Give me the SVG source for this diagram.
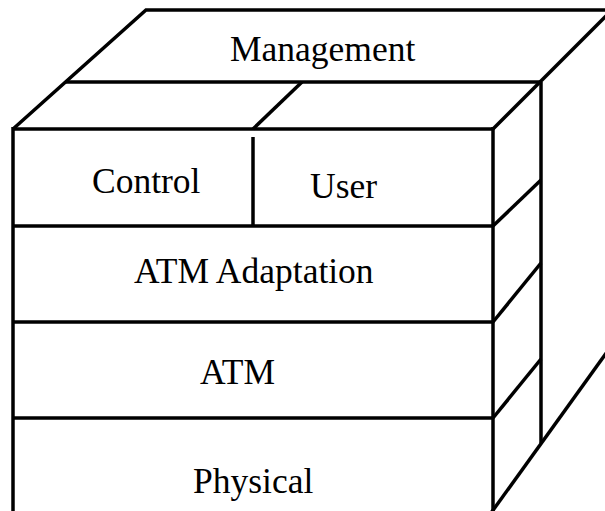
<svg xmlns="http://www.w3.org/2000/svg" width="605" height="511" viewBox="0 0 605 511">
  <style>
    .edge { fill: none; stroke: #000; stroke-width: 3.5; stroke-linecap: butt; stroke-linejoin: miter; }
    .label { font-family: "Liberation Serif", "Times New Roman", serif; font-size: 35.5px; fill: #000; }
  </style>
  <rect width="605" height="511" fill="#fff"/>

  <!-- Management plane: top face of the cube plus its back side panel -->
  <g id="management">
    <polyline class="edge" points="13,129 146,10 612,10 493,129"/>
    <line class="edge" x1="65" y1="82" x2="541" y2="82"/>
    <line class="edge" x1="541" y1="82" x2="541" y2="443"/>
    <text class="label" x="230" y="61">Management</text>
  </g>

  <!-- Control plane -->
  <g id="control">
    <line class="edge" x1="302" y1="82" x2="253" y2="129"/>
    <line class="edge" x1="253" y1="137" x2="253" y2="226"/>
    <text class="label" x="92" y="193">Control</text>
  </g>

  <!-- User plane -->
  <g id="user">
    <text class="label" x="310" y="198">User</text>
  </g>

  <!-- ATM Adaptation layer -->
  <g id="atm-adaptation">
    <text class="label" x="134" y="283">ATM Adaptation</text>
  </g>

  <!-- ATM layer -->
  <g id="atm">
    <text class="label" x="200" y="384">ATM</text>
  </g>

  <!-- Physical layer -->
  <g id="physical">
    <text class="label" x="193" y="493">Physical</text>
  </g>

  <!-- Front face, layer dividers and side-face edges -->
  <g id="connectors">
    <line class="edge" x1="13" y1="129" x2="493" y2="129"/>
    <line class="edge" x1="13" y1="127" x2="13" y2="515"/>
    <line class="edge" x1="493" y1="127" x2="493" y2="515"/>
    <line class="edge" x1="13" y1="226" x2="493" y2="226"/>
    <line class="edge" x1="13" y1="322" x2="493" y2="322"/>
    <line class="edge" x1="13" y1="418" x2="493" y2="418"/>
    <line class="edge" x1="493" y1="226" x2="541" y2="180"/>
    <line class="edge" x1="493" y1="322" x2="541" y2="263"/>
    <line class="edge" x1="493" y1="418" x2="541" y2="359"/>
    <line class="edge" x1="491" y1="513" x2="612" y2="345"/>
  </g>
</svg>
